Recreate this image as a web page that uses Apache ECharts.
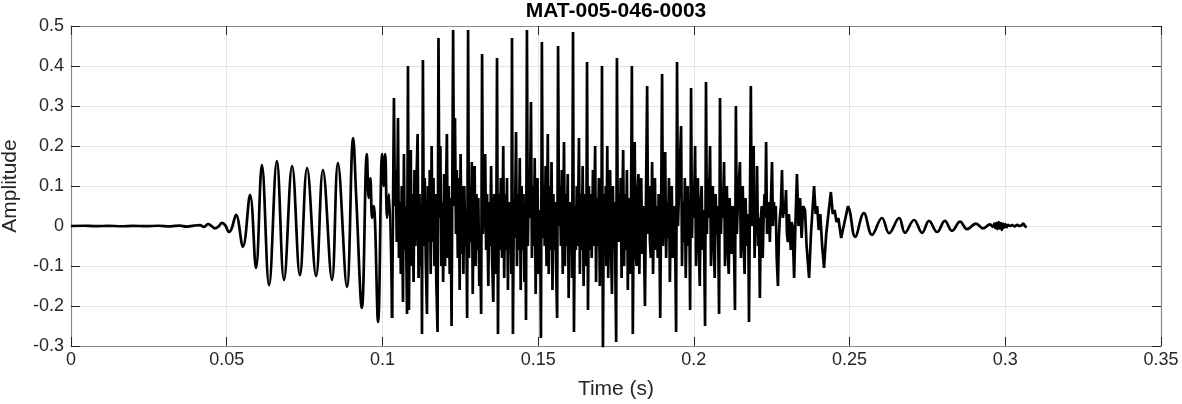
<!DOCTYPE html>
<html><head><meta charset="utf-8">
<script src="https://cdn.jsdelivr.net/npm/echarts/dist/echarts.min.js"></script>
<style>html,body{margin:0;padding:0;background:#fff}#c{width:1182px;height:404px}</style>
</head><body><div id="c"></div>
<script>
const chartTitle = 'MAT-005-046-0003';
const xTitle = 'Time (s)';
const yTitle = 'Amplitude';
const xTicks = [0, 0.35, 0.05];   // min, max, step (seconds)
const yTicks = [-0.3, 0.5, 0.1];  // min, max, step

// Waveform: [time in ms, amplitude]
const onsetPts = [
  [0,0],[4,0.0006],[8,-0.0004],[12,0.0005],[16,-0.0006],[20,0.0004],[24,-0.0005],[28,0.0006],
  [32,-0.0008],[35,0.001],[37,-0.0015],[39.5,0.001],[41.4,0.002],[42.7,-0.002],[44.0,0.005],
  [45.1,0.0],[46.2,-0.006],[47.4,-0.001],[48.5,0.008],[49.6,0.001],[50.7,-0.015],[51.6,-0.006],
  [53.0,0.028],[55.2,-0.052],[57.5,0.078],[59.4,-0.105],[61.3,0.152],[63.6,-0.148],[66.1,0.162],
  [68.4,-0.135],[71.0,0.15],[73.5,-0.123],[75.8,0.145],[78.7,-0.125],[80.9,0.14],[83.8,-0.135],
  [85.7,0.157],[88.6,-0.152],[90.6,0.22],[91.6,0.07],[93.4,-0.205],[95.0,0.18],[95.6,0.07],
  [96.1,0.12],[96.7,0.02],[97.2,0.05],[98.6,-0.24],[99.9,0.18],[100.4,0.1],[100.9,0.18],
  [101.5,0.02],[102.1,0.08],[103.1,-0.23]
];
const voicedPts = [
  [103.1,-0.23],
  [103.7,0.32],[104.0,0.05],[104.3,0.14],[104.6,-0.04],[105.0,0.27],[105.3,-0.08],[105.6,0.06],[105.9,-0.12],[106.2,0.1],[106.6,-0.19],[106.9,0.18],[107.2,-0.06],[107.5,0.05],[107.9,-0.22],
  [108.2,0.40],[108.5,-0.21],[108.8,0.05],[109.1,0.19],[109.4,-0.1],[109.7,0.08],[110.0,-0.14],[110.3,0.14],[110.6,-0.05],[110.9,0.1],[111.3,0.23],[111.6,-0.13],[111.9,0.08],[112.2,-0.1],[112.5,0.05],[112.7,-0.27],
  [113.0,0.415],[113.3,-0.05],[113.6,0.12],[113.9,-0.08],[114.3,-0.22],[114.6,0.1],[114.9,-0.04],[115.2,0.14],[115.5,-0.12],[115.8,0.2],[116.1,-0.04],[116.4,0.12],[116.7,-0.1],[117.0,0.08],[117.3,-0.14],[117.7,-0.265],
  [118.0,0.47],[118.3,0.02],[118.6,0.2],[118.9,-0.1],[119.2,0.06],[119.5,-0.14],[119.8,0.13],[120.1,-0.1],[120.4,0.08],[120.7,0.23],[121.0,-0.08],[121.3,0.1],[121.6,-0.12],[121.9,0.07],[122.2,-0.25],
  [122.7,0.49],[123.0,0.05],[123.3,0.27],[123.6,-0.02],[123.9,0.14],[124.2,-0.08],[124.5,0.12],[124.8,-0.16],[125.1,0.18],[125.4,-0.07],[125.7,0.1],[126.0,-0.12],[126.3,0.1],[126.6,-0.05],[126.9,0.04],[127.2,-0.23],
  [127.5,0.49],[127.8,-0.08],[128.1,0.1],[128.4,-0.04],[128.7,0.16],[129.0,-0.17],[129.3,0.08],[129.6,0.15],[129.9,-0.1],[130.2,0.08],[130.5,-0.06],[130.8,0.07],[131.1,-0.15],[131.4,-0.05],[131.7,-0.22],
  [132.0,0.43],[132.3,-0.02],[132.6,0.1],[133.0,0.18],[133.3,-0.06],[133.6,0.08],[134.0,-0.15],[134.3,0.06],[134.6,-0.05],[134.9,0.15],[135.2,-0.08],[135.6,-0.19],[135.9,0.08],[136.2,-0.04],[136.5,-0.12],
  [136.8,0.42],[137.1,-0.27],[137.4,0.08],[137.7,-0.06],[138.0,0.12],[138.4,-0.08],[138.8,0.2],[139.1,-0.13],[139.4,0.08],[139.7,-0.06],[140.0,0.12],[140.3,-0.16],[140.6,0.06],[140.9,-0.05],[141.2,0.05],[141.4,-0.12],
  [141.6,0.47],[141.9,-0.27],[142.2,0.05],[142.5,-0.03],[142.9,0.235],[143.2,-0.1],[143.5,0.08],[143.8,-0.06],[144.1,0.17],[144.4,-0.16],[144.7,0.1],[145.0,-0.06],[145.3,0.08],[145.6,-0.14],[145.9,0.05],[146.1,-0.235],
  [146.4,0.49],[146.7,-0.05],[147.0,0.12],[147.3,0.02],[147.7,0.31],[148.0,-0.08],[148.3,0.1],[148.6,-0.05],[148.9,0.17],[149.2,-0.17],[149.5,0.06],[149.8,0.12],[150.1,-0.12],[150.4,0.04],[150.7,-0.06],[150.9,-0.28],
  [151.2,0.46],[151.5,-0.03],[151.8,0.1],[152.1,-0.05],[152.4,0.15],[152.7,-0.1],[153.1,0.23],[153.4,-0.12],[153.7,0.1],[154.0,-0.06],[154.3,0.16],[154.6,-0.16],[154.9,0.08],[155.2,-0.06],[155.5,0.06],[155.8,-0.12],[156.1,-0.23],
  [156.4,0.45],[156.7,0.0],[157.0,0.1],[157.3,-0.05],[157.6,0.14],[157.9,-0.12],[158.3,0.21],[158.6,-0.1],[158.9,0.08],[159.2,-0.05],[159.5,0.13],[159.8,-0.18],[160.1,0.06],[160.4,-0.04],[160.7,0.05],[160.9,-0.13],
  [161.2,0.485],[161.5,-0.265],[161.8,0.05],[162.1,-0.06],[162.4,0.1],[162.7,-0.05],[163.1,0.22],[163.4,-0.12],[163.7,0.08],[164.0,-0.06],[164.3,0.15],[164.6,-0.15],[164.9,0.08],[165.2,-0.03],[165.45,-0.1],
  [165.7,0.41],[166.0,-0.21],[166.3,0.1],[166.6,-0.06],[166.9,0.08],[167.2,-0.08],[167.6,0.14],[167.9,-0.05],[168.3,0.2],[168.6,-0.14],[168.9,0.07],[169.2,-0.05],[169.5,0.12],[169.8,-0.15],[170.1,0.05],[170.3,-0.05],
  [170.5,0.40],[170.8,-0.32],[171.1,0.08],[171.4,-0.04],[171.7,0.1],[171.9,-0.1],[172.2,0.2],[172.5,-0.13],[172.8,0.07],[173.1,0.14],[173.4,-0.06],[173.7,-0.17],[174.0,0.1],[174.3,-0.06],[174.6,0.06],[174.8,-0.12],[175.05,-0.29],
  [175.3,0.42],[175.6,-0.04],[175.9,0.08],[176.2,-0.04],[176.5,0.12],[176.8,-0.13],[177.0,0.05],[177.3,0.19],[177.6,-0.1],[177.9,0.08],[178.2,-0.06],[178.5,0.14],[178.8,-0.16],[179.1,0.07],[179.4,-0.04],[179.7,-0.12],
  [180.1,0.40],[180.4,-0.27],[180.7,0.05],[181.0,0.21],[181.3,-0.06],[181.6,-0.1],[181.9,0.08],[182.2,0.13],[182.5,-0.12],[182.8,0.06],[183.1,0.12],[183.4,-0.07],[183.7,0.05],[184.0,-0.05],[184.3,-0.2],[184.6,0.05],
  [185.0,0.35],[185.3,-0.02],[185.6,0.1],[185.9,-0.04],[186.2,-0.08],[186.6,0.16],[186.9,-0.12],[187.2,0.06],[187.5,0.12],[187.8,-0.06],[188.1,0.05],[188.4,-0.08],[188.7,0.08],[188.95,-0.04],[189.2,-0.23],[189.5,0.05],
  [189.8,0.38],[190.1,-0.05],[190.4,0.06],[190.8,0.185],[191.1,-0.08],[191.4,0.06],[191.7,-0.03],[192.0,0.12],[192.3,-0.14],[192.6,0.04],[192.9,0.1],[193.2,-0.08],[193.5,0.03],[193.8,0.05],[194.05,-0.08],[194.3,-0.265],
  [194.6,0.41],[194.9,0.0],[195.2,0.08],[195.5,0.15],[195.9,0.25],[196.2,-0.1],[196.5,0.06],[196.8,-0.04],[197.1,0.12],[197.4,-0.13],[197.7,0.05],[198.0,0.1],[198.3,-0.05],[198.55,0.02],[198.8,-0.21],
  [199.1,0.345],[199.4,-0.03],[199.7,0.1],[200.0,0.02],[200.4,0.2],[200.7,-0.1],[201.0,0.05],[201.3,0.12],[201.6,-0.05],[201.9,-0.15],[202.2,0.06],[202.5,0.1],[202.8,-0.06],[203.1,0.04],[203.35,-0.08],[203.6,-0.25],
  [203.9,0.36],[204.2,-0.02],[204.5,0.12],[204.8,0.02],[205.2,0.2],[205.5,-0.1],[205.8,0.06],[206.1,0.1],[206.4,-0.05],[206.7,-0.13],[207.0,0.08],[207.3,-0.02],[207.6,0.05],[207.85,-0.05],[208.1,-0.22],
  [208.4,0.32],[208.7,-0.02],[209.0,0.08],[209.3,0.02],[209.7,0.16],[210.0,-0.1],[210.3,0.05],[210.6,0.1],[210.9,-0.06],[211.2,-0.12],[211.5,0.07],[211.8,-0.02],[212.1,-0.07],[212.4,0.05],[212.7,0.03],[212.95,-0.08],[213.2,-0.21],
  [213.5,0.30],[213.8,-0.02],[214.1,0.05],[214.4,0.1],[214.8,0.16],[215.1,-0.08],[215.4,0.04],[215.7,0.1],[216.0,-0.05],[216.3,-0.12],[216.6,0.07],[216.9,-0.02],[217.2,-0.05],[217.45,0.03],[217.7,-0.24],[218.0,0.05],
  [218.3,0.35],[218.6,0.0],[218.9,0.08],[219.2,0.2],[219.5,-0.08],[219.8,0.05],[220.1,-0.02],[220.3,0.15],[220.6,-0.05],[220.9,0.02],[221.2,-0.18],[221.5,0.02],[221.8,0.05],[222.1,-0.08],[222.4,0.02],[222.7,0.08],[222.95,0.02],
  [223.2,0.21],[223.5,-0.02],[223.8,0.04],[224.1,0.06],[224.4,-0.04],[224.7,0.05],[225.1,0.16],[225.4,0.0],[225.7,0.06],[226.0,0.02],[226.3,0.05],[226.6,-0.08],[227.0,-0.15],[227.3,-0.03],[227.6,0.02],[227.95,0.05],
  [228.3,0.14],[228.6,0.02],[228.9,0.05],[229.2,0.03],[229.6,0.09],[229.9,-0.02],[230.2,-0.04],[230.5,0.03],[230.8,0.0],[231.1,-0.06],[231.4,0.01],[231.7,0.0],[232.0,-0.08],[232.2,-0.13],[232.6,0.0],
  [233.1,0.13],[233.6,0.0],[234.1,0.07],[234.6,-0.03],[235.1,0.05],[235.7,0.04],[236.2,-0.05],[237.0,-0.13],[237.6,-0.02],[238.1,0.04],
  [238.6,0.10],[239.1,0.03],[239.6,0.05],[240.1,-0.01],[240.6,0.03],[241.2,-0.05],[241.8,-0.105],[242.5,-0.02],[243.2,0.03],
  [244.0,0.085],[244.6,0.03],[245.2,0.04],[245.8,0.01],[246.4,0.02],[247.3,-0.03],[248.4,0.01],[249.5,0.05]
];
const decayPts = [
  [249.5,0.05],[250.1,0.036],[251.8,-0.027],[254.6,0.032],[257.2,-0.022],[260.4,0.02],[262.7,-0.018],
  [265.9,0.02],[267.8,-0.017],[270.7,0.015],[273.3,-0.017],[275.5,0.013],[278.1,-0.015],[280.6,0.013],
  [282.9,-0.012],[285.5,0.011],[287.7,-0.008],[290.6,0.006],[292.8,-0.006],[295.1,0.004],[296.0,-0.002],
  [296.5,0.006],[296.8,-0.005],[297.2,0.008],[297.5,-0.008],[297.9,0.01],[298.2,-0.006],[298.6,0.007],
  [298.9,-0.01],[299.3,0.006],[299.6,-0.004],[300.0,0.005],[300.4,-0.003],[300.9,0.003],[301.5,0.0],
  [302.2,0.002],[303.0,-0.001],[303.8,0.003],[304.5,0.0],[305.2,0.002],[305.8,0.006],[306.3,0.0],[306.9,-0.003]
];

const toSec = pts => pts.map(p => [p[0] / 1000, p[1]]);
const fmt = v => String(+v.toFixed(2));
const FONT = 'Liberation Sans, Arial, Helvetica, sans-serif';
const TXT = '#262626';

const baseAxis = {
  type: 'value',
  axisLine: { show: true, onZero: false, lineStyle: { color: '#8a8a8a', width: 1.2 } },
  axisTick: { show: true, inside: true, length: 9, lineStyle: { color: '#262626', width: 1 } },
  splitLine: { show: true, lineStyle: { color: '#e4e4e4', width: 1 } }
};

const chart = echarts.init(document.getElementById('c'), null, { renderer: 'canvas' });
const lineSeries = (data, smooth) => ({
  type: 'line', data: toSec(data), showSymbol: false, symbol: 'none',
  smooth: smooth, clip: true, animation: false,
  lineStyle: { color: '#000', width: 2.7 }, z: 5
});

chart.setOption({
  animation: false,
  backgroundColor: '#fff',
  grid: { left: 71, right: 21, top: 26, bottom: 58, containLabel: false, outerBoundsMode: 'none' },
  graphic: [{
    type: 'text', x: 616, y: 1,
    style: { text: chartTitle, fill: '#000', font: 'bold 21px ' + FONT, textAlign: 'center', textVerticalAlign: 'top' }
  }],
  xAxis: [
    Object.assign({}, baseAxis, {
      position: 'bottom', min: xTicks[0], max: xTicks[1], interval: xTicks[2],
      axisLabel: { color: TXT, fontSize: 18, fontFamily: FONT, margin: 5, formatter: fmt },
      name: xTitle, nameLocation: 'middle', nameGap: 33,
      nameTextStyle: { color: TXT, fontSize: 21, fontFamily: FONT }
    }),
    Object.assign({}, baseAxis, {
      position: 'top', min: xTicks[0], max: xTicks[1], interval: xTicks[2],
      axisLabel: { show: false }, splitLine: { show: false }
    })
  ],
  yAxis: [
    Object.assign({}, baseAxis, {
      position: 'left', min: yTicks[0], max: yTicks[1], interval: yTicks[2],
      axisLabel: { color: TXT, fontSize: 18, fontFamily: FONT, margin: 7, formatter: fmt },
      name: yTitle, nameLocation: 'middle', nameGap: 50, nameRotate: 90,
      nameTextStyle: { color: TXT, fontSize: 21, fontFamily: FONT }
    }),
    Object.assign({}, baseAxis, {
      position: 'right', min: yTicks[0], max: yTicks[1], interval: yTicks[2],
      axisLabel: { show: false }, splitLine: { show: false }
    })
  ],
  series: [
    lineSeries(onsetPts, 0.4),
    lineSeries(voicedPts, false),
    lineSeries(decayPts, 0.4)
  ]
});
</script>
</body></html>
